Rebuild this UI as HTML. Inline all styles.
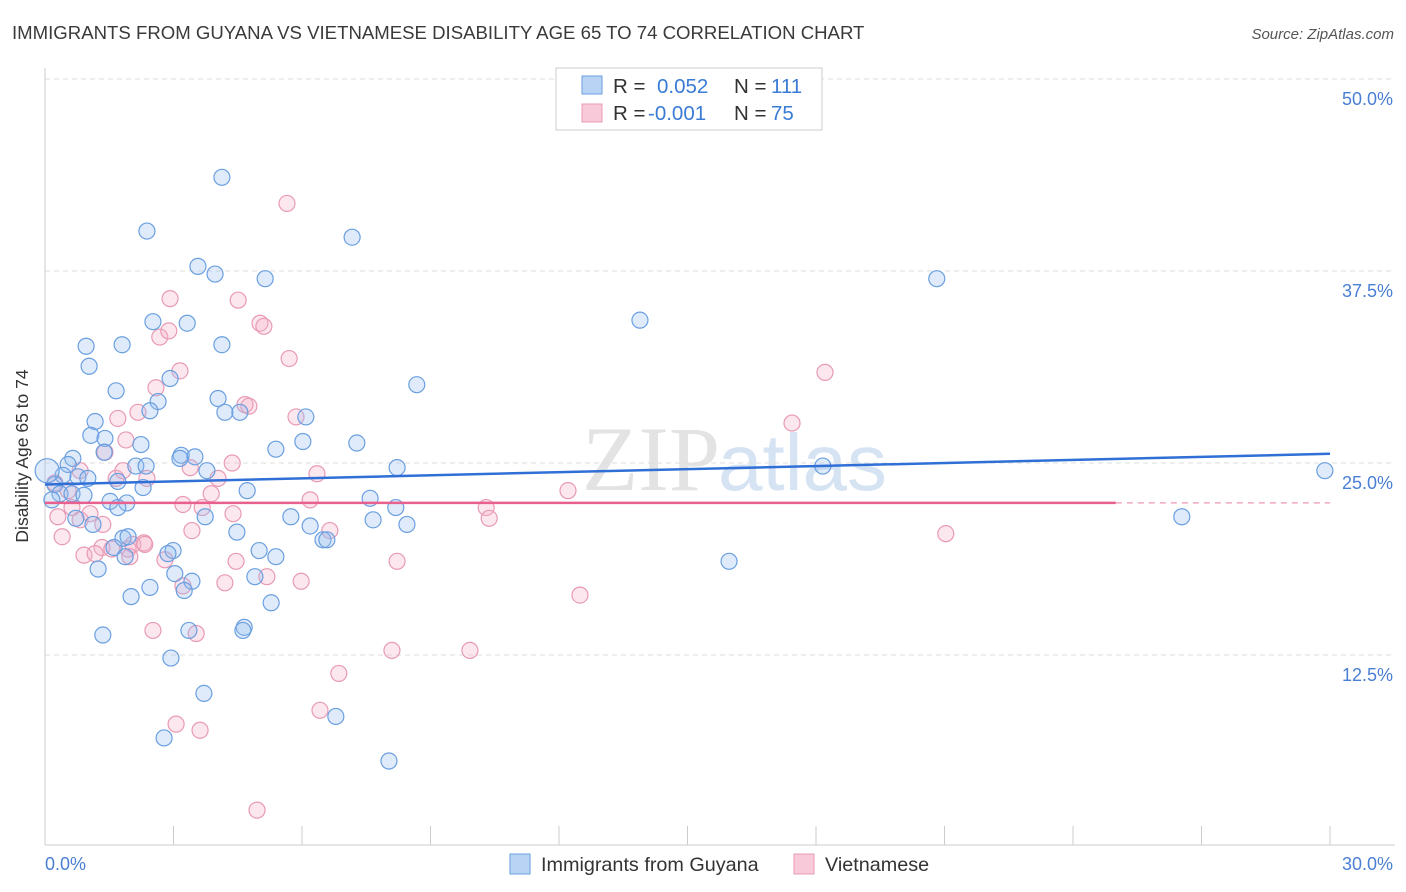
<!DOCTYPE html>
<html><head><meta charset="utf-8">
<style>
body{margin:0;background:#fff;font-family:"Liberation Sans",sans-serif;}
#wrap{position:relative;width:1406px;height:892px;overflow:hidden;}
</style></head>
<body>
<div id="wrap">
<svg id="svg" width="1406" height="892" xmlns="http://www.w3.org/2000/svg" font-family="Liberation Sans, sans-serif">
<text x="12" y="39" font-size="18.6" fill="#3a3a3a">IMMIGRANTS FROM GUYANA VS VIETNAMESE DISABILITY AGE 65 TO 74 CORRELATION CHART</text>
<text x="1394" y="39" font-size="15" font-style="italic" fill="#555" text-anchor="end">Source: ZipAtlas.com</text>
<text x="720" y="490" font-size="92" font-family="Liberation Serif, serif" fill="#e3e3e3" text-anchor="end">ZIP</text>
<text x="718" y="490" font-size="80" fill="#d5e3f3">atlas</text>
<g id="grid"></g>
<g id="axes"></g>
<g id="marks"></g>
<g id="lines"></g>
<text x="28" y="456" font-size="17.5" fill="#333" text-anchor="middle" transform="rotate(-90 28 456)">Disability Age 65 to 74</text>
<g>
<rect x="556" y="68" width="266" height="62" fill="#fff" stroke="#ccc"/>
<rect x="582" y="76" width="20" height="18" fill="#b9d3f5" stroke="#6a9fe0"/>
<rect x="582" y="104" width="20" height="18" fill="#f8c9d9" stroke="#e89ab5"/>
<text x="613" y="93" font-size="20.5" fill="#333">R =</text>
<text x="657" y="93" font-size="20.5" fill="#3a7bd5">0.052</text>
<text x="734" y="93" font-size="20.5" fill="#333">N =</text>
<text x="771" y="93" font-size="20.5" fill="#3a7bd5">111</text>
<text x="613" y="120" font-size="20.5" fill="#333">R =</text>
<text x="648" y="120" font-size="20.5" fill="#3a7bd5">-0.001</text>
<text x="734" y="120" font-size="20.5" fill="#333">N =</text>
<text x="771" y="120" font-size="20.5" fill="#3a7bd5">75</text>
</g>
<g>
<rect x="510" y="854" width="20" height="20" fill="#b9d3f5" stroke="#6a9fe0"/>
<text x="541" y="871" font-size="19.8" fill="#333">Immigrants from Guyana</text>
<rect x="794" y="854" width="20" height="20" fill="#f8c9d9" stroke="#e89ab5"/>
<text x="825" y="871" font-size="19.8" fill="#333">Vietnamese</text>
</g>
</svg>
</div>
<script>
const blueX=[4.13,2.38,7.17,3.57,3.97,5.14,20.82,2.52,3.32,13.89,0.96,1.8,4.13,1.03,2.92,8.68,1.66,2.64,2.45,4.04,4.2,4.55,6.09,1.17,1.07,1.4,2.24,7.28,5.39,6.02,3.18,3.5,0.65,0.54,2.12,2.36,3.15,1.38,8.22,18.16,29.88,3.78,0.42,0.77,1.0,1.7,2.29,4.72,0.23,0.35,0.63,0.91,0.16,1.52,1.91,1.7,7.59,8.19,5.74,3.74,7.66,8.45,6.19,1.12,0.72,26.54,4.48,1.82,1.94,6.49,6.58,1.61,2.99,2.87,5.0,1.87,5.39,15.97,1.24,3.03,4.9,3.43,2.45,3.25,2.01,5.28,1.35,3.36,4.65,4.62,2.94,3.71,6.79,2.78,8.03,0.05];
const blueY=[43.6,40.1,39.7,37.8,37.3,37.0,37.0,34.2,34.1,34.3,32.6,32.7,32.7,31.3,30.5,30.1,29.7,29.0,28.4,29.2,28.3,28.3,28.0,27.7,26.8,26.6,26.2,26.3,25.9,26.4,25.5,25.4,25.3,24.9,24.8,24.8,25.3,25.7,24.7,24.8,24.5,24.5,24.2,24.1,24.0,23.8,23.4,23.2,23.6,23.0,23.0,22.9,22.6,22.5,22.4,22.1,22.7,22.1,21.5,21.5,21.3,21.0,20.9,21.0,21.4,21.5,20.5,20.1,20.2,20.0,20.0,19.5,19.3,19.1,19.3,18.9,18.9,18.6,18.1,17.8,17.6,17.3,16.9,16.7,16.3,15.9,13.8,14.1,14.3,14.1,12.3,10.0,8.5,7.1,5.6,24.5];
const pinkX=[5.65,2.92,4.51,5.02,5.11,2.68,2.89,5.7,3.15,18.21,2.59,4.67,4.76,2.17,1.7,5.86,17.44,1.89,1.4,4.37,3.39,6.35,1.66,2.38,4.04,3.88,6.19,12.21,10.3,3.22,4.39,0.3,0.82,3.67,1.05,10.37,6.65,3.43,0.4,21.03,1.33,1.94,2.31,2.05,1.56,0.91,1.17,1.98,2.8,4.46,8.22,5.18,5.98,3.22,4.2,12.49,2.52,3.53,8.1,9.92,6.86,3.06,3.62,6.42,4.95,1.35,0.63,0.54,0.82,0.23,2.33,1.82];
const pinkY=[41.9,35.7,35.6,34.1,33.9,33.2,33.6,31.8,31.0,30.9,29.9,28.8,28.7,28.3,27.9,28.0,27.6,26.5,25.7,25.0,24.7,24.3,24.0,24.0,24.0,23.0,22.6,23.2,22.1,22.3,21.7,21.5,21.3,22.1,21.7,21.4,20.6,20.6,20.2,20.4,19.5,19.4,19.8,19.7,19.4,19.0,19.1,18.9,18.7,18.6,18.6,17.6,17.3,17.0,17.2,16.4,14.1,13.9,12.8,12.8,11.3,8.0,7.6,8.9,2.4,21.0,22.1,23.2,24.5,23.7,19.7,24.5];
const yTicks=[12.5,25.0,37.5,50.0];
const yTickLabels=["12.5%","25.0%","37.5%","50.0%"];
const xTicks=[0,3,6,9,12,15,18,21,24,27,30];
const blueTrend=[23.6,25.6];
const pinkTrend=[22.4,22.4];
const pinkTrendEnd=25;

const NS="http://www.w3.org/2000/svg";
const X=v=>45+v*1285/30;
const Y=v=>847-v*192/12.5;
function mk(tag,attrs,parent){const e=document.createElementNS(NS,tag);for(const k in attrs)e.setAttribute(k,attrs[k]);document.getElementById(parent).appendChild(e);return e;}

yTicks.forEach((t,i)=>{
  const g=mk('line',{x1:45,x2:1393,y1:Y(t),y2:Y(t),stroke:'#dedede','stroke-dasharray':'5,4'},'grid');
  
  
  const l=mk('text',{x:1393,y:Y(t)+26,'font-size':18,fill:'#4a7fd4','text-anchor':'end'},'axes');
  l.textContent=yTickLabels[i];
  
  
});
const ya=mk('line',{x1:45,x2:45,y1:68,y2:845,stroke:'#ccc'},'axes');


const xa=mk('line',{x1:45,x2:1395,y1:845,y2:845,stroke:'#ccc'},'axes');


xTicks.forEach(t=>{
  const tk=mk('line',{x1:X(t),x2:X(t),y1:826,y2:845,stroke:'#ccc'},'axes');
  
  
});
const x0=mk('text',{x:45,y:870,'font-size':18,fill:'#4a7fd4'},'axes');x0.textContent='0.0%';


const x1=mk('text',{x:1393,y:870,'font-size':18,fill:'#4a7fd4','text-anchor':'end'},'axes');x1.textContent='30.0%';



pinkX.forEach((v,i)=>{
  const c=mk('circle',{cx:X(v),cy:Y(pinkY[i]),r:8,fill:'rgba(245,175,200,0.3)',stroke:'#e89ab5','stroke-width':1.2},'marks');
  
  
});
blueX.forEach((v,i)=>{
  const c=mk('circle',{cx:X(v),cy:Y(blueY[i]),r:(i===blueX.length-1?12:8),fill:'rgba(150,190,240,0.3)',stroke:'#6a9fe0','stroke-width':1.2},'marks');
  
  
});
const bl=mk('line',{x1:X(0),x2:X(30),y1:Y(blueTrend[0]),y2:Y(blueTrend[1]),stroke:'#2f6fd6','stroke-width':2.5},'lines');


const pl=mk('line',{x1:X(0),x2:X(pinkTrendEnd),y1:Y(pinkTrend[0]),y2:Y(pinkTrend[0]+(pinkTrend[1]-pinkTrend[0])*pinkTrendEnd/30),stroke:'#e8608e','stroke-width':2.5},'lines');


const pd=mk('line',{x1:X(pinkTrendEnd),x2:X(30),y1:Y(pinkTrend[0]+(pinkTrend[1]-pinkTrend[0])*pinkTrendEnd/30),y2:Y(pinkTrend[1]),stroke:'#f0a8c0','stroke-width':1.5,'stroke-dasharray':'6,5'},'lines');


</script>
</body></html>
